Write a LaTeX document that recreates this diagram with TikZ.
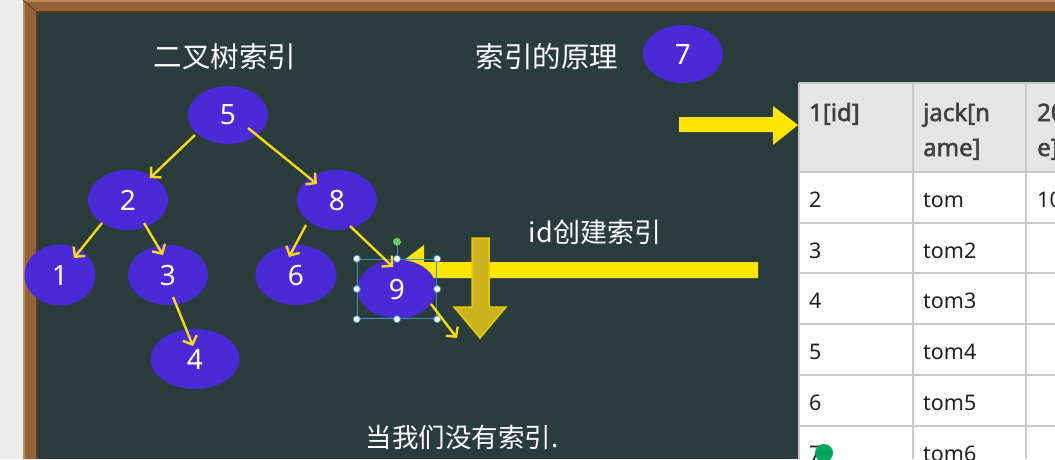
\documentclass[tikz,border=0pt]{standalone}
\usepackage{fontspec}
\setmainfont{Noto Sans}
\newfontfamily\cjk{Noto Sans CJK SC}
\newfontfamily\headfont{Noto Sans}[FakeBold=2.2]
\usepackage{tikz}
\usetikzlibrary{arrows.meta, shapes.geometric, calc, fit}
\definecolor{board}{HTML}{2A3C3C}
\definecolor{wood}{HTML}{94633A}
\definecolor{wooddark}{HTML}{5A3A1C}
\definecolor{woodlight}{HTML}{B98A5A}
\definecolor{nodeblue}{HTML}{4A2AD6}
\definecolor{bigyellow}{HTML}{FFE500}
\definecolor{thinyellow}{HTML}{F7D917}
\definecolor{darkyellow}{HTML}{CCB21E}
\definecolor{selblue}{HTML}{3E8FC6}
\definecolor{headgray}{HTML}{E5E5E5}
\definecolor{gridgray}{HTML}{C8C8C8}
\tikzset{
tnode/.style={ellipse, fill=nodeblue, text=white, minimum width=80pt, minimum height=60pt, inner sep=0pt, font=\fontsize{28}{30}\selectfont},
tarrow/.style={draw=thinyellow, line width=2.4pt, -{Straight Barb[length=7pt,width=15pt]}},
chalk/.style={text=white, inner sep=0pt, font=\cjk\fontsize{28.5}{32}\selectfont},
selbox/.style={draw=selblue, line width=1pt, inner sep=0pt},
handle/.style={draw=selblue, fill=white, line width=.8pt},
hcell/.style={anchor=base west, inner sep=0pt, text=black!75, font=\headfont\fontsize{24}{30}\selectfont},
bcell/.style={anchor=base west, inner sep=0pt, text=black!88, font=\fontsize{21.5}{25}\selectfont}
}
\begin{document}
\begin{tikzpicture}[x=1pt, y=-1pt]
\useasboundingbox (0,0) rectangle (1055,459);
\clip (0,0) rectangle (1055,459);
\fill[black!8] (0,0) rectangle (1055,459);
\fill[board] (37,12) rectangle (1055,459);
\fill[wood] (23,0) rectangle (1055,12) (23,0) rectangle (37,459);
\draw[woodlight, line width=1.2pt] (24,459) -- (24,1) -- (1055,1);
\draw[wooddark, line width=1.5pt] (37,459) -- (37,12) -- (1055,12);
\draw[wooddark, line width=.8pt] (23,0) -- (37,12);

\node[chalk] (t1) at (225,57) {二叉树索引};
\node[chalk] (t2) at (547,57) {索引的原理};
\node[chalk, font=\cjk\fontsize{27}{30}\selectfont] (t3) at (595,232) {id创建索引};
\node[chalk, font=\cjk\fontsize{26.5}{30}\selectfont] (t4) at (462,437) {当我们没有索引.};

\fill[bigyellow] (679,117) -- (773,117) -- (773,106) -- (798,125) -- (773,145) -- (773,132) -- (679,132) -- cycle;
\fill[bigyellow] (758,262) -- (424,262) -- (424,245) -- (391,270) -- (424,295) -- (424,278) -- (758,278) -- cycle;

\node[tnode, minimum height=58pt] (n7) at (683,54) {7};
\node[tnode, minimum height=58pt] (n5) at (228,115) {5};
\node[tnode] (n2) at (128,200) {2};
\node[tnode] (n8) at (337,200) {8};
\node[tnode, minimum width=71pt, minimum height=61pt] (n1) at (60,275) {1};
\node[tnode] (n3) at (168,275) {3};
\node[tnode, minimum width=81pt] (n6) at (296,275) {6};
\node[tnode, minimum width=79pt, minimum height=59pt] (n9) at (397,289) {9};
\node[tnode, minimum width=89pt] (n4) at (195,359) {4};
\coordinate (out9) at (457,338);

\node[selbox, fit=(n9)] (s9) {};
\draw[selblue, line width=1pt] (s9.north) -- ++(0,-13);
\fill[green!45!gray!80] ($(s9.north)+(0,-17)$) circle (4pt);
\draw[handle] (s9.north west) circle (3.5pt) (s9.north) circle (3.5pt) (s9.north east) circle (3.5pt) (s9.west) circle (3.5pt) (s9.east) circle (3.5pt) (s9.south west) circle (3.5pt) (s9.south) circle (3.5pt) (s9.south east) circle (3.5pt);

\draw[tarrow] ($(n5)+(-33,20)$) -- ($(n2)+(22,-22)$);
\draw[tarrow] ($(n5)+(20,13)$) -- ($(n8)+(-20,-16)$);
\draw[tarrow] ($(n2)+(-26,23)$) -- ($(n1)+(14,-17)$);
\draw[tarrow] ($(n2)+(16,23)$) -- ($(n3)+(-5,-20)$);
\draw[tarrow] ($(n3)+(5,22)$) -- ($(n4)+(-2,-13)$);
\draw[tarrow] ($(n8)+(-31,25)$) -- ($(n6)+(-7,-18)$);
\draw[tarrow] ($(n8)+(13,26)$) -- ($(n9)+(-4,-22)$);
\draw[tarrow] ($(n9)+(34,15)$) -- (out9);

\filldraw[fill=darkyellow, draw=bigyellow!90!black, line width=1.5pt] (472,238) -- (489,238) -- (489,307) -- (506,307) -- (480,338) -- (454,307) -- (472,307) -- cycle;

\fill[headgray] (799,83) rectangle (1055,172);
\fill[white] (799,172) rectangle (1055,459);
\draw[gridgray, line width=1.5pt] (799,83) -- (1055,83) (799,172) -- (1055,172) (799,223) -- (1055,223) (799,273) -- (1055,273) (799,324) -- (1055,324) (799,375) -- (1055,375) (799,426) -- (1055,426);
\draw[gridgray, line width=1.5pt] (799,83) -- (799,459) (913,83) -- (913,459) (1026,83) -- (1026,459);

\node[hcell] (h1) at (809,121) {1[id]};
\node[hcell] (h2) at (923,121) {jack[n};
\node[hcell] (h2b) at (923,156) {ame]};
\node[hcell] (h3) at (1037,121) {20};
\node[hcell] (h3b) at (1037,156) {e]};
\node[bcell] (a1) at (809,207) {2};
\node[bcell] (b1) at (923,207) {tom};
\node[bcell] (c1) at (1037,207) {10};
\node[bcell] (a2) at (809,258) {3};
\node[bcell] (b2) at (923,258) {tom2};
\node[bcell] (a3) at (809,308) {4};
\node[bcell] (b3) at (923,308) {tom3};
\node[bcell] (a4) at (809,359) {5};
\node[bcell] (b4) at (923,359) {tom4};
\node[bcell] (a5) at (809,410) {6};
\node[bcell] (b5) at (923,410) {tom5};
\node[bcell] (a6) at (809,461) {7};
\node[bcell] (b6) at (923,461) {tom6};
\fill[teal!70!green] (824,453) circle (9pt);
\end{tikzpicture}
\end{document}
